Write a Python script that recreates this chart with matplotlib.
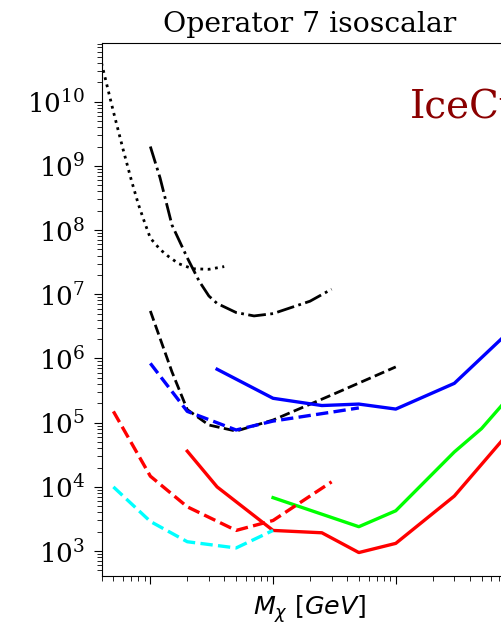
import numpy as np
import matplotlib
matplotlib.use("Agg")
import matplotlib.pyplot as plt

plt.rcParams['font.family'] = 'DejaVu Serif'
plt.rcParams['mathtext.fontset'] = 'dejavuserif'

# dotted black
m_dot = [4, 5, 6, 7, 8, 9, 10, 12, 14, 17, 22, 30, 40]
v_dot = [4e10, 7e9, 1.8e9, 6e8, 2.5e8, 1.3e8, 7.5e7, 5e7, 3.9e7, 3e7, 2.5e7, 2.45e7, 2.7e7]

# dash-dot black
m_dd = [10, 12, 15, 20, 25, 30, 35, 50, 70, 100, 200, 300]
v_dd = [2e9, 6.5e8, 1.2e8, 3.7e7, 1.6e7, 9.4e6, 7.2e6, 5.2e6, 4.6e6, 5e6, 7.8e6, 1.2e7]

# dashed black
m_kd = [10, 15, 20, 30, 50, 100, 300, 1000]
v_kd = [5.5e6, 6.2e5, 1.6e5, 9.2e4, 7.4e4, 1.1e5, 2.7e5, 7.4e5]

# dashed blue
m_bd = [10, 20, 50, 100, 300, 500]
v_bd = [8.4e5, 1.5e5, 7.7e4, 1.06e5, 1.46e5, 1.7e5]

# solid blue
m_bs = [35, 100, 250, 500, 1000, 3000, 10000]
v_bs = [6.8e5, 2.4e5, 1.85e5, 1.95e5, 1.63e5, 4.1e5, 3.6e6]

# solid green
m_gs = [100, 500, 1000, 3000, 5000, 10000]
v_gs = [6.8e3, 2.4e3, 4.25e3, 3.5e4, 8.1e4, 3.7e5]

# solid red
m_rs = [20, 35, 100, 250, 500, 1000, 3000, 10000]
v_rs = [3.6e4, 1e4, 2.1e3, 1.93e3, 9.5e2, 1.32e3, 7.2e3, 1.05e5]

# dashed red
m_rd = [5, 10, 20, 50, 100, 300]
v_rd = [1.5e5, 1.47e4, 4.9e3, 2.1e3, 3.0e3, 1.2e4]

# dashed cyan
m_cd = [5, 10, 20, 50, 100]
v_cd = [1e4, 2.9e3, 1.4e3, 1.12e3, 2.1e3]

fig = plt.figure(figsize=(5.01, 6.26), dpi=100)
ax = fig.add_axes([0.2026, 0.0799, 0.8323, 0.852])

ax.plot(m_dot, v_dot, ':', color='k', lw=2)
ax.plot(m_dd, v_dd, '-.', color='k', lw=2)
ax.plot(m_kd, v_kd, '--', color='k', lw=2)
ax.plot(m_bd, v_bd, '--', color='#0000ff', lw=2.4)
ax.plot(m_bs, v_bs, '-', color='#0000ff', lw=2.4)
ax.plot(m_gs, v_gs, '-', color='#00ff00', lw=2.4)
ax.plot(m_rs, v_rs, '-', color='#ff0000', lw=2.4)
ax.plot(m_rd, v_rd, '--', color='#ff0000', lw=2.4)
ax.plot(m_cd, v_cd, '--', color='#00ffff', lw=2.4)

ax.set_xscale('log')
ax.set_yscale('log')
ax.set_xlim(4, 1e4)
ax.set_ylim(4.1e2, 8.3e10)
ax.set_xticklabels([])
ax.set_xticklabels([], minor=True)
ax.tick_params(axis='y', which='major', labelsize=19, length=6, pad=5.5)
ax.tick_params(axis='both', which='minor', length=3.5)
ax.tick_params(axis='x', which='major', length=6)

ax.set_title('Operator 7 isoscalar', fontsize=20.3, pad=8)
ax.set_xlabel(r'$M_\chi\ [GeV]$', fontsize=18.3, math_fontfamily='dejavusans', labelpad=3)
ax.text(0.74, 0.858, 'IceCube', transform=ax.transAxes, color='#8b0000',
        fontsize=28, ha='left', va='baseline')

fig.savefig('out.png', dpi=100)
